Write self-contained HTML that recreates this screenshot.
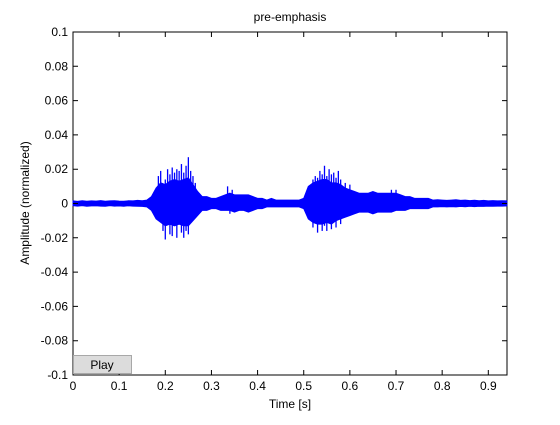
<!DOCTYPE html>
<html><head><meta charset="utf-8"><style>
body{margin:0;background:#fff;width:560px;height:420px;overflow:hidden;font-family:"Liberation Sans",Arial,sans-serif}
svg text{font-family:"Liberation Sans",Arial,sans-serif;font-size:12px;fill:#000}
</style></head><body>
<svg id="chart" width="560" height="420" xmlns="http://www.w3.org/2000/svg">
<rect x="0" y="0" width="560" height="420" fill="#fff"/>
<rect x="73" y="32" width="434" height="343" fill="#fff" stroke="#000" stroke-width="1"/>
<g id="marks"></g>
<g id="axes"></g>
<text x="290" y="21" text-anchor="middle" font-size="12">pre-emphasis</text>
<text x="290" y="408" text-anchor="middle">Time [s]</text>
<text transform="translate(29,203) rotate(-90)" text-anchor="middle">Amplitude (normalized)</text>
<g>
<rect x="73.5" y="355.5" width="58" height="18" fill="#dcdcdc" stroke="#a8a8a8"/>
<text x="102" y="369" text-anchor="middle" font-size="11">Play</text>
</g>
</svg>
<script>
const xTicks=[0,0.1,0.2,0.3,0.4,0.5,0.6,0.7,0.8,0.9];
const xTickLabels=["0","0.1","0.2","0.3","0.4","0.5","0.6","0.7","0.8","0.9"];
const yTicks=[0.1,0.08,0.06,0.04,0.02,0,-0.02,-0.04,-0.06,-0.08,-0.1];
const yTickLabels=["0.1","0.08","0.06","0.04","0.02","0","-0.02","-0.04","-0.06","-0.08","-0.1"];
const times=[];for(let i=0;i<=94;i++)times.push(i/100);
const upperEnv=[0.0015,0.0012,0.0016,0.0013,0.0015,0.0014,0.0017,0.0013,0.0015,0.0016,0.0014,0.0013,0.0016,0.0015,0.0018,0.0016,0.002,
0.004,0.009,0.012,0.011,0.013,0.014,0.013,0.014,0.015,0.011,0.007,0.004,0.004,0.003,0.003,0.004,0.005,0.006,0.005,0.005,0.005,0.005,0.004,0.003,0.003,
0.002,0.003,0.002,0.002,0.002,0.002,0.002,0.002,0.003,0.010,0.012,0.013,0.014,0.014,0.012,0.012,0.011,0.009,0.008,0.007,0.006,0.006,0.006,0.007,0.006,0.006,0.006,0.006,0.006,0.005,0.004,0.004,0.003,0.003,0.003,0.003,
0.002,0.0022,0.002,0.0018,0.002,0.0022,0.0018,0.002,0.0017,0.0019,0.0016,0.0018,0.0015,0.0017,0.0015,0.0016,0.0015];
const lowerEnv=[-0.0013,-0.0015,-0.0012,-0.0016,-0.0014,-0.0013,-0.0015,-0.0016,-0.0012,-0.0015,-0.0014,-0.0016,-0.0013,-0.0015,-0.0016,-0.0017,-0.002,
-0.004,-0.009,-0.011,-0.013,-0.012,-0.013,-0.012,-0.013,-0.013,-0.010,-0.007,-0.004,-0.004,-0.003,-0.003,-0.004,-0.004,-0.004,-0.005,-0.004,-0.004,-0.005,-0.004,-0.003,-0.003,
-0.002,-0.002,-0.002,-0.002,-0.002,-0.002,-0.002,-0.002,-0.003,-0.009,-0.011,-0.012,-0.012,-0.011,-0.012,-0.010,-0.009,-0.008,-0.007,-0.006,-0.005,-0.005,-0.005,-0.006,-0.005,-0.005,-0.005,-0.005,-0.004,-0.004,-0.004,-0.003,-0.003,-0.003,-0.003,-0.003,
-0.002,-0.002,-0.0018,-0.002,-0.0018,-0.002,-0.0017,-0.0019,-0.0016,-0.0018,-0.0016,-0.0017,-0.0015,-0.0016,-0.0015,-0.0015,-0.0014];
const spikeTimes=[0.185,0.19,0.2,0.205,0.21,0.215,0.22,0.225,0.23,0.235,0.24,0.245,0.25,0.255,0.26,0.265,0.335,0.34,0.345,0.52,0.525,0.53,0.535,0.54,0.545,0.55,0.555,0.56,0.565,0.57,0.575,0.58,0.59,0.6,0.69,0.7,
0.195,0.2,0.21,0.215,0.225,0.235,0.24,0.245,0.25,0.34,0.52,0.53,0.54,0.545,0.55,0.56,0.57,0.58];
const spikeValues=[0.016,0.019,0.014,0.020,0.017,0.021,0.018,0.020,0.019,0.023,0.018,0.022,0.027,0.019,0.016,0.012,0.010,0.006,0.008,0.014,0.016,0.015,0.019,0.017,0.022,0.016,0.020,0.017,0.018,0.015,0.019,0.014,0.012,0.011,0.008,0.008,
-0.016,-0.021,-0.018,-0.019,-0.020,-0.017,-0.020,-0.016,-0.018,-0.006,-0.014,-0.017,-0.016,-0.013,-0.016,-0.015,-0.014,-0.012];
const X0=73,X1=507,Y0=375,Y1=32,XMAX=0.9405,YMIN=-0.1,YMAX=0.1;
const xs=t=>X0+(t/XMAX)*(X1-X0);
const ys=v=>Y0-(v-YMIN)/(YMAX-YMIN)*(Y0-Y1);
const NS="http://www.w3.org/2000/svg";
const marks=document.getElementById('marks');
let pts=[];
for(let i=0;i<times.length;i++)pts.push(xs(times[i]).toFixed(1)+","+ys(upperEnv[i]).toFixed(1));
for(let i=times.length-1;i>=0;i--)pts.push(xs(times[i]).toFixed(1)+","+ys(lowerEnv[i]).toFixed(1));
const poly=document.createElementNS(NS,'polygon');
poly.setAttribute('points',pts.join(' '));
poly.setAttribute('fill','#0000ff');poly.setAttribute('stroke','#0000ff');poly.setAttribute('stroke-width','1');


marks.appendChild(poly);
spikeTimes.forEach((t,i)=>{
  const l=document.createElementNS(NS,'line');
  l.setAttribute('x1',xs(t));l.setAttribute('x2',xs(t));
  l.setAttribute('y1',ys(0));l.setAttribute('y2',ys(spikeValues[i]));
  l.setAttribute('stroke','#0000ff');l.setAttribute('stroke-width','1.3');
  
  
  marks.appendChild(l);
});
const axes=document.getElementById('axes');
xTicks.forEach((t,i)=>{
  const x=xs(t);
  const p=document.createElementNS(NS,'path');
  p.setAttribute('d',`M${x},${Y0}v-5M${x},${Y1}v5`);p.setAttribute('stroke','#000');
  
  
  axes.appendChild(p);
  const tx=document.createElementNS(NS,'text');
  tx.setAttribute('x',x);tx.setAttribute('y',Y0+15);tx.setAttribute('text-anchor','middle');
  tx.textContent=xTickLabels[i];
  
  
  axes.appendChild(tx);
});
yTicks.forEach((v,i)=>{
  const y=ys(v);
  const p=document.createElementNS(NS,'path');
  p.setAttribute('d',`M${X0},${y}h5M${X1},${y}h-5`);p.setAttribute('stroke','#000');
  
  
  axes.appendChild(p);
  const tx=document.createElementNS(NS,'text');
  tx.setAttribute('x',X0-5);tx.setAttribute('y',y+4);tx.setAttribute('text-anchor','end');
  tx.textContent=yTickLabels[i];
  
  
  axes.appendChild(tx);
});
</script>
</body></html>
